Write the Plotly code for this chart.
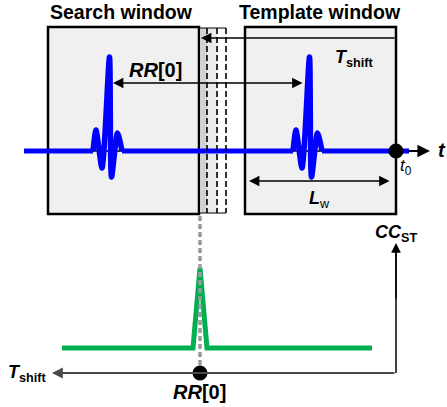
import plotly.graph_objects as go

# ECG beat shape: time offsets (from onset) and amplitudes (up = positive)
beat_dt = [0, 3, 9, 16.5, 18.5, 24.5, 29]
beat_amp = [0, 21, -17, 94, -26, 18, 0]

# onsets of the beat inside the search and template windows
beat_onsets = [93, 293]
baseline = 151
signal_start, signal_end = 24, 409

# cross-correlation curve between template and shifted search window
cc_t = [62, 193, 200, 207, 372]
cc_val = [0, 0, 80, 0, 0]
cc_base = 348

FONT = "Arial, Liberation Sans, sans-serif"

fig = go.Figure()

# --- window boxes ---
fig.add_shape(type="rect", x0=48, x1=199, y0=27, y1=214,
              fillcolor="#f0f0f0", line=dict(color="black", width=2.5), layer="below")
fig.add_shape(type="rect", x0=245, x1=396, y0=27, y1=214,
              fillcolor="#f0f0f0", line=dict(color="black", width=2.5), layer="below")
# sliding strip next to the search window
fig.add_shape(type="rect", x0=200, x1=207, y0=28, y1=213,
              fillcolor="#d2d2d2", line=dict(width=0), layer="below")
fig.add_shape(type="rect", x0=207, x1=217, y0=28, y1=213,
              fillcolor="#ebebeb", line=dict(width=0), layer="below")
for xd in [207, 217, 226]:
    fig.add_shape(type="line", x0=xd, x1=xd, y0=28, y1=213,
                  line=dict(color="black", width=1.6, dash="6px,3px"))
fig.add_shape(type="line", x0=199, x1=226, y0=28, y1=28, line=dict(color="black", width=1))
fig.add_shape(type="line", x0=199, x1=226, y0=213, y1=213, line=dict(color="black", width=1))

# thin time axis under the signal
fig.add_trace(go.Scatter(x=[signal_start, 420], y=[baseline, baseline], mode="lines",
                         line=dict(color="black", width=1.5), hoverinfo="skip"))

# --- ECG signal: flat baseline plus one smooth beat per window ---
fig.add_trace(go.Scatter(x=[signal_start, beat_onsets[0]], y=[baseline, baseline], mode="lines",
                         line=dict(color="#0000ff", width=5), hoverinfo="skip"))
fig.add_trace(go.Scatter(x=[beat_onsets[0] + beat_dt[-1], beat_onsets[1]], y=[baseline, baseline],
                         mode="lines", line=dict(color="#0000ff", width=5), hoverinfo="skip"))
fig.add_trace(go.Scatter(x=[beat_onsets[1] + beat_dt[-1], signal_end], y=[baseline, baseline],
                         mode="lines", line=dict(color="#0000ff", width=5), hoverinfo="skip"))
for onset in beat_onsets:
    fig.add_trace(go.Scatter(x=[onset + d for d in beat_dt], y=[baseline - a for a in beat_amp],
                             mode="lines", line=dict(color="#0000ff", width=5.5, shape="spline", smoothing=0.7),
                             hoverinfo="skip"))

# dotted link from search-window edge to the correlation peak
fig.add_shape(type="line", x0=200, x1=200, y0=216, y1=366,
              line=dict(color="#9a9a9a", width=3.5, dash="5px,3px"))

# --- correlation curve ---
fig.add_trace(go.Scatter(x=cc_t, y=[cc_base - v for v in cc_val], mode="lines",
                         line=dict(color="#00b050", width=5), hoverinfo="skip"))

# correlation axes
fig.add_shape(type="line", x0=396, x1=396, y0=373, y1=250, line=dict(color="black", width=1.5))

# markers
fig.add_trace(go.Scatter(x=[396, 200], y=[baseline, 373], mode="markers",
                         marker=dict(color="black", size=15), hoverinfo="skip"))


def arrow(x, y, ax, ay, both=False, color="black", width=1.3, size=1.6):
    fig.add_annotation(x=x, y=y, ax=ax, ay=ay, xref="x", yref="y", axref="x", ayref="y",
                       text="", showarrow=True, arrowhead=2, arrowsize=size, arrowwidth=width,
                       arrowcolor=color, arrowside="end+start" if both else "end",
                       startarrowhead=2, startarrowsize=size)


arrow(201, 38, 396, 38)                       # T_shift
arrow(113, 83, 304, 83, both=True)            # RR[0]
arrow(249, 181, 391, 181, both=True)          # L_w
arrow(430, 151, 407, 151, width=1.8, size=1.4)  # t axis
arrow(52, 373, 396, 373, color="#4a4a4a", width=1.8, size=1.2)  # T_shift axis
arrow(396, 243, 396, 300, width=1.5, size=1.3)  # CC_ST axis


def label(x, y, txt, size=17, xanchor="center"):
    fig.add_annotation(x=x, y=y, xref="x", yref="y", text=txt, showarrow=False,
                       xanchor=xanchor, yanchor="middle",
                       font=dict(family=FONT, size=size, color="black"))


label(121, 12, "<b>Search window</b>", 19.5)
label(320, 12, "<b>Template window</b>", 19.5)
label(333, 58, "<b><i>T</i></b><sub><b>shift</b></sub>", 18, "left")
label(127, 70, "<b><i>RR</i>[0]</b>", 20, "left")
label(307, 199, "<b><i>L</i></b><sub>w</sub>", 18, "left")
label(436, 150, "<b><i>t</i></b>", 20, "left")
label(398, 167, "<i>t</i><sub>0</sub>", 17, "left")
label(373, 233, "<b><i>CC</i></b><sub><b>ST</b></sub>", 18, "left")
label(6, 373, "<b><i>T</i></b><sub><b>shift</b></sub>", 18, "left")
label(171, 392, "<b><i>RR</i>[0]</b>", 20, "left")

fig.update_layout(
    width=447, height=407, margin=dict(l=0, r=0, t=0, b=0),
    paper_bgcolor="white", plot_bgcolor="white", showlegend=False,
    xaxis=dict(range=[0, 447], visible=False, fixedrange=True),
    yaxis=dict(range=[407, 0], visible=False, fixedrange=True),
)

fig.write_html("out.html")
